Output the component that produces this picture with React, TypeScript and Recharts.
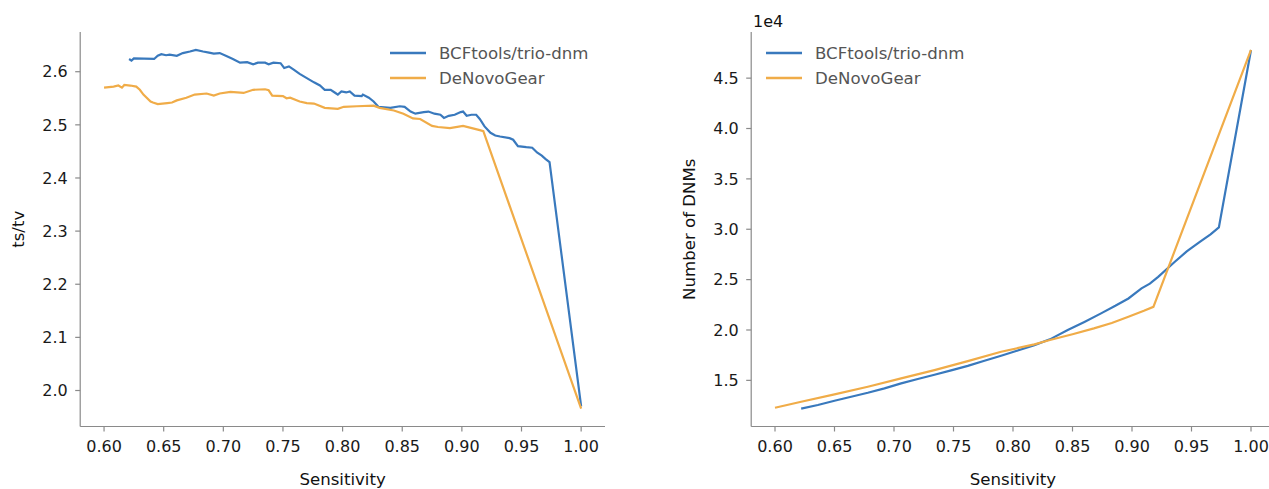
import React from 'react';
import { LineChart, Line, XAxis, YAxis, Legend, Label } from 'recharts';

// ts/tv against sensitivity
const bcfSensTstv = [
  0.621, 0.623, 0.625, 0.642, 0.645, 0.648, 0.652, 0.655, 0.661, 0.666, 0.672, 0.677, 0.683, 0.688, 0.692,
  0.697, 0.703, 0.708, 0.714, 0.72, 0.725, 0.729, 0.735, 0.738, 0.742, 0.748, 0.751, 0.755, 0.759, 0.764,
  0.77, 0.776, 0.781, 0.785, 0.79, 0.794, 0.796, 0.799, 0.803, 0.806, 0.81, 0.816, 0.817, 0.822, 0.826,
  0.83, 0.84, 0.848, 0.852, 0.857, 0.861, 0.868, 0.872, 0.877, 0.882, 0.885, 0.889, 0.894, 0.899, 0.901,
  0.904, 0.908, 0.912, 0.915, 0.919, 0.924, 0.928, 0.932, 0.94, 0.943, 0.947, 0.954, 0.959, 0.963, 0.967,
  0.97, 0.9735, 1.0,
];
const bcfTstv = [
  2.624, 2.621, 2.625, 2.624, 2.63, 2.633, 2.631, 2.632, 2.63, 2.635, 2.638, 2.641, 2.638, 2.636, 2.634,
  2.635, 2.629, 2.624, 2.617, 2.618, 2.614, 2.617, 2.617, 2.614, 2.617, 2.616, 2.607, 2.61, 2.604, 2.596,
  2.588, 2.58, 2.574, 2.566, 2.566, 2.56, 2.557, 2.563, 2.561, 2.563, 2.555, 2.554, 2.557, 2.551, 2.544,
  2.534, 2.532, 2.535, 2.534, 2.525, 2.521, 2.524, 2.525, 2.521, 2.519, 2.513, 2.517, 2.519, 2.524, 2.525,
  2.517, 2.519, 2.519, 2.511, 2.497, 2.485, 2.48, 2.478, 2.475, 2.472, 2.46, 2.458, 2.457, 2.448, 2.442,
  2.436, 2.43, 1.97,
];
const dngSensTstv = [
  0.6, 0.608, 0.612, 0.615, 0.617, 0.622, 0.627, 0.63, 0.633, 0.639, 0.641, 0.645, 0.653, 0.657, 0.661,
  0.669, 0.676, 0.686, 0.692, 0.697, 0.706, 0.717, 0.725, 0.735, 0.738, 0.741, 0.75, 0.753, 0.756, 0.764,
  0.77, 0.776, 0.785, 0.796, 0.801, 0.812, 0.826, 0.831, 0.843, 0.851, 0.859, 0.865, 0.875, 0.88, 0.89,
  0.901, 0.915, 0.918, 1.0,
];
const dngTstv = [
  2.57, 2.572, 2.574, 2.57, 2.575, 2.574, 2.572, 2.566, 2.557, 2.544, 2.542, 2.539, 2.541, 2.542, 2.546,
  2.551, 2.557, 2.559, 2.555, 2.559, 2.562, 2.56, 2.566, 2.567, 2.565, 2.555, 2.554, 2.55, 2.551, 2.544,
  2.541, 2.54, 2.532, 2.53, 2.534, 2.535, 2.536, 2.532, 2.527, 2.521, 2.512, 2.511, 2.498, 2.496, 2.494,
  2.498, 2.49, 2.488, 1.966,
];

// number of DNMs against sensitivity
const bcfSensCount = [
  0.622, 0.636, 0.65, 0.664, 0.678, 0.692, 0.706, 0.72, 0.734, 0.748, 0.762, 0.776, 0.79, 0.804, 0.818,
  0.831, 0.846, 0.86, 0.874, 0.886, 0.897, 0.908, 0.915, 0.922, 0.936, 0.946, 0.957, 0.966, 0.973, 1.0,
];
const bcfCount = [
  12200, 12550, 12980, 13370, 13770, 14210, 14700, 15130, 15560, 15990, 16440, 16940, 17450, 17960, 18500,
  19070, 19990, 20800, 21650, 22400, 23130, 24130, 24600, 25280, 26770, 27800, 28750, 29500, 30180, 47800,
];
const dngSensCount = [
  0.6, 0.622, 0.65, 0.678, 0.706, 0.734, 0.762, 0.79, 0.818, 0.831, 0.85, 0.868, 0.883, 0.897, 0.91, 0.918, 1.0,
];
const dngCount = [
  12280, 12880, 13610, 14370, 15200, 16020, 16910, 17840, 18570, 19000, 19580, 20160, 20700, 21310, 21900,
  22300, 47800,
];

const sensTicks = [0.6, 0.65, 0.7, 0.75, 0.8, 0.85, 0.9, 0.95, 1.0];
const tstvTicks = [2.0, 2.1, 2.2, 2.3, 2.4, 2.5, 2.6];
const countTicks = [15000, 20000, 25000, 30000, 35000, 40000, 45000];

const seriesNames = ['BCFtools/trio-dnm', 'DeNovoGear'];

const FONT = '"DejaVu Sans", sans-serif';
const BLUE = '#3979bd';
const ORANGE = '#f0ac48';
const SPINE = '#8a8a8a';

const toRows = (xs: number[], ys: number[]) => xs.map((x, i) => ({ x, y: ys[i] }));

// matplotlib-style 5% margins around the data
const padded = (...lists: number[][]): [number, number] => {
  const all = lists.flat();
  const lo = Math.min(...all);
  const hi = Math.max(...all);
  const pad = (hi - lo) * 0.05;
  return [lo - pad, hi + pad];
};

const LegendBox = ({ payload }: any) => (
  <div style={{ fontFamily: FONT, fontSize: 16.6, color: '#555' }}>
    {(payload || []).map((p: any) => (
      <div key={p.value} style={{ display: 'flex', alignItems: 'center', height: 25 }}>
        <svg width={36} height={4} style={{ marginRight: 13 }}>
          <line x1={0} x2={36} y1={2} y2={2} stroke={p.color} strokeWidth={2.4} />
        </svg>
        <span>{p.value}</span>
      </div>
    ))}
  </div>
);

const xTitle = (text: string) => (p: any) => {
  const vb = p.viewBox || {};
  return (
    <text x={vb.x + vb.width / 2} y={vb.y + 58.5} textAnchor="middle" fontFamily={FONT} fontSize={16.6} fill="#111">
      {text}
    </text>
  );
};

const yTitle = (text: string, baseX: number) => (p: any) => {
  const vb = p.viewBox || {};
  const cy = vb.y + vb.height / 2;
  return (
    <text
      x={baseX}
      y={cy}
      transform={`rotate(-90, ${baseX}, ${cy})`}
      textAnchor="middle"
      fontFamily={FONT}
      fontSize={16.6}
      fill="#111"
    >
      {text}
    </text>
  );
};

const axisCommon = {
  stroke: SPINE,
  strokeWidth: 1.2,
  tickSize: 5,
  tick: { fontSize: 16, fill: '#1a1a1a', fontFamily: FONT },
};

const App = () => {
  const bcfTstvRows = toRows(bcfSensTstv, bcfTstv);
  const dngTstvRows = toRows(dngSensTstv, dngTstv);
  const bcfCountRows = toRows(bcfSensCount, bcfCount);
  const dngCountRows = toRows(dngSensCount, dngCount);

  const tstvX = padded(bcfSensTstv, dngSensTstv);
  const tstvY = padded(bcfTstv, dngTstv);
  const countX = padded(bcfSensCount, dngSensCount);
  const countY = padded(bcfCount, dngCount);

  return (
    <div style={{ position: 'absolute', left: 0, top: 0, width: 1269, height: 489, overflow: 'hidden', background: '#fff' }}>
      <div style={{ position: 'absolute', left: 0, top: 0 }}>
        <LineChart width={640} height={489} margin={{ top: 32, right: 35, bottom: 32.5, left: 0 }}>
          <XAxis
            dataKey="x"
            type="number"
            domain={tstvX}
            allowDataOverflow
            ticks={sensTicks}
            tickFormatter={(v: number) => v.toFixed(2)}
            height={30}
            tickMargin={9}
            {...axisCommon}
          >
            <Label content={xTitle('Sensitivity')} />
          </XAxis>
          <YAxis
            type="number"
            domain={tstvY}
            allowDataOverflow
            ticks={tstvTicks}
            tickFormatter={(v: number) => v.toFixed(1)}
            width={80.2}
            tickMargin={7.5}
            {...axisCommon}
          >
            <Label content={yTitle('ts/tv', 24)} />
          </YAxis>
          <Legend
            layout="vertical"
            align="center"
            verticalAlign="middle"
            wrapperStyle={{ left: 390, top: 40.5, width: 'auto' }}
            content={(props: any) => <LegendBox {...props} />}
          />
          <Line data={bcfTstvRows} dataKey="y" name={seriesNames[0]} stroke={BLUE} strokeWidth={2.2} dot={false} type="linear" isAnimationActive={false} />
          <Line data={dngTstvRows} dataKey="y" name={seriesNames[1]} stroke={ORANGE} strokeWidth={2.2} dot={false} type="linear" isAnimationActive={false} />
        </LineChart>
      </div>
      <div style={{ position: 'absolute', left: 640, top: 0 }}>
        <LineChart width={640} height={489} margin={{ top: 32, right: 5.2, bottom: 32.5, left: 0 }}>
          <XAxis
            dataKey="x"
            type="number"
            domain={countX}
            allowDataOverflow
            ticks={sensTicks}
            tickFormatter={(v: number) => v.toFixed(2)}
            height={30}
            tickMargin={9}
            {...axisCommon}
          >
            <Label content={xTitle('Sensitivity')} />
          </XAxis>
          <YAxis
            type="number"
            domain={countY}
            allowDataOverflow
            ticks={countTicks}
            tickFormatter={(v: number) => (v / 1e4).toFixed(1)}
            width={111.2}
            tickMargin={7.5}
            {...axisCommon}
          >
            <Label content={yTitle('Number of DNMs', 55)} />
            <Label
              content={(p: any) => (
                <text x={p.viewBox.x + p.viewBox.width + 1.8} y={p.viewBox.y - 4.7} fontFamily={FONT} fontSize={16} fill="#111">
                  1e4
                </text>
              )}
            />
          </YAxis>
          <Legend
            layout="vertical"
            align="center"
            verticalAlign="middle"
            wrapperStyle={{ left: 126, top: 40.5, width: 'auto' }}
            content={(props: any) => <LegendBox {...props} />}
          />
          <Line data={bcfCountRows} dataKey="y" name={seriesNames[0]} stroke={BLUE} strokeWidth={2.2} dot={false} type="linear" isAnimationActive={false} />
          <Line data={dngCountRows} dataKey="y" name={seriesNames[1]} stroke={ORANGE} strokeWidth={2.2} dot={false} type="linear" isAnimationActive={false} />
        </LineChart>
      </div>
    </div>
  );
};

export default App;
